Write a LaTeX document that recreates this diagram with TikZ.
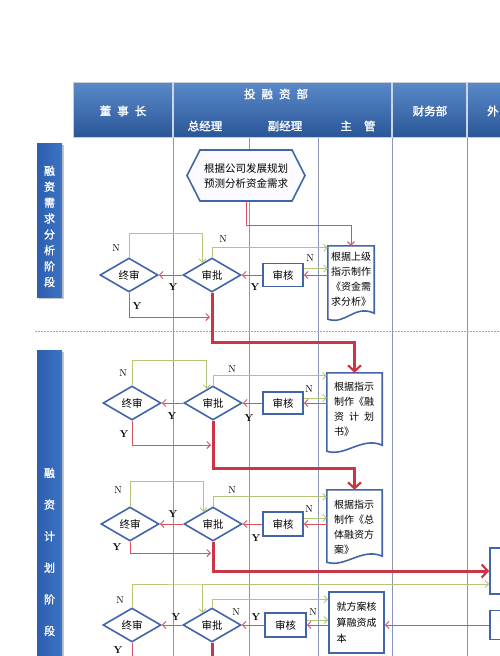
\documentclass[tikz,border=0pt]{standalone}
\usepackage{fontspec}
\newfontfamily\cjk{Noto Sans CJK SC}
\newfontfamily\cjkb{Noto Sans CJK SC}[FakeBold=1.5]
\usetikzlibrary{arrows.meta,shapes.geometric,calc}
\definecolor{hdrT}{HTML}{5A8ACB}
\definecolor{hdrB}{HTML}{2A5696}
\definecolor{phL}{HTML}{2C5EAD}
\definecolor{phR}{HTML}{3D74C4}
\definecolor{shpC}{HTML}{4265AA}
\definecolor{laneC}{HTML}{8D96B6}
\definecolor{grC}{HTML}{B2C679}
\definecolor{rdC}{HTML}{D9505E}
\definecolor{bigC}{HTML}{CC3545}
\newcommand{\wavydoc}[1]{\draw[shp] (#1.north west) -- (#1.north east) -- (#1.south east) .. controls +(-20,-9) and +(18,6) .. ([yshift=-6pt]#1.south west) -- cycle;}
\begin{document}
\begin{tikzpicture}[x=1pt,y=-1pt,
 lane/.style={draw=laneC,line width=0.7pt},
 shp/.style={draw=shpC,line width=1.6pt,fill=white},
 dia/.style={shp,diamond,minimum width=58pt,minimum height=34pt,inner sep=0pt,font=\cjk\fontsize{10.5}{12}\selectfont},
 box/.style={shp,rectangle,inner sep=0pt,font=\cjk\fontsize{10.5}{12}\selectfont},
 area/.style={rectangle,inner sep=0pt,draw=none},
 dtext/.style={inner sep=0pt,align=left,font=\cjk\fontsize{10}{15}\selectfont},
 gr/.style={draw=grC,line width=0.9pt,-{Straight Barb[length=3.5pt,width=7pt]}},
 rd/.style={draw=rdC,line width=1pt,-{Straight Barb[length=3.5pt,width=7pt]}},
 bigline/.style={draw=bigC,line width=3pt},
 big/.style={bigline,-{Straight Barb[length=6pt,width=13pt,line width=2.2pt]}},
 nl/.style={inner sep=0pt,font=\fontsize{10}{12}\selectfont},
 yl/.style={inner sep=0pt,font=\bfseries\fontsize{10}{12}\selectfont},
 htext/.style={inner sep=0pt,text=white,font=\cjkb\fontsize{11.5}{14}\selectfont},
 ptext/.style={inner sep=0pt,text=white,align=center},
]
\useasboundingbox (0,0) rectangle (500,656);
\clip (0,0) rectangle (500,656);
\fill[white] (0,0) rectangle (500,656);

% lane lines
\foreach \lx in {173,249,318,392,467} \draw[lane] (\lx,137) -- (\lx,660);
% separator
\draw[gray!70,line width=0.8pt,dash pattern=on 1.5pt off 1.5pt] (35,331) -- (500,331);

% header
\shade[top color=hdrT,bottom color=hdrB] (73,82) rectangle (500,137);
\draw[gray!40,line width=0.8pt] (73,82) rectangle (502,137);
\foreach \hx in {173,392,467} \draw[white!75!hdrB,line width=1.6pt] (\hx,82) -- (\hx,137);
\node[htext] (hA) at (123,111) {董\hspace{6pt}事\hspace{6pt}长};
\node[htext] (hB) at (276,94) {投\hspace{6pt}融\hspace{6pt}资\hspace{6pt}部};
\node[htext] (hB1) at (205,126) {总经理};
\node[htext] (hB2) at (285,126) {副经理};
\node[htext] (hB3) at (358,126) {主\hspace{12pt}管};
\node[htext] (hC) at (430,111) {财务部};
\node[htext,anchor=west] (hD) at (487,111) {外};

% phase boxes
\fill[gray!45] (39,145) rectangle (64,299);
\shade[left color=phL,right color=phR] (37,143) rectangle (62,297);
\fill[gray!45] (39,352) rectangle (64,660);
\shade[left color=phL,right color=phR] (37,350) rectangle (62,660);
\node[ptext,font=\cjkb\fontsize{11}{15.9}\selectfont] (ph1) at (49.5,226.5) {融\\资\\需\\求\\分\\析\\阶\\段};
\node[ptext,font=\cjkb\fontsize{11}{31.6}\selectfont] (ph2) at (49.5,552) {融\\资\\计\\划\\阶\\段};

% hexagon
\draw[shp,fill=blue!2] (187,175.5) -- (200,150) -- (292,150) -- (305,175.5) -- (292,201) -- (200,201) -- cycle;
\node[area,minimum width=118pt,minimum height=51pt,align=center,font=\cjk\fontsize{10.5}{15}\selectfont] (H1) at (246,176) {根据公司发展规划\\预测分析资金需求};

% block 1
\node[dia] (Z1) at (129,275) {终审};
\node[dia] (P1) at (212,275) {审批};
\node[box,minimum width=40pt,minimum height=23pt] (K1) at (283,275) {审核};
\node[area,minimum width=46pt,minimum height=67pt] (D1) at (351,279.5) {};
\wavydoc{D1}
\node[dtext] (D1t) at (351,279) {根据上级\\指示制作\\《资金需\\求分析》};

% block 2
\node[dia] (Z2) at (132,403) {终审};
\node[dia] (P2) at (213,403) {审批};
\node[box,minimum width=40pt,minimum height=22pt] (K2) at (283,403) {审核};
\node[area,minimum width=55pt,minimum height=72pt] (D2) at (354.5,409) {};
\wavydoc{D2}
\node[dtext] (D2t) at (354,409) {根据指示\\制作《融\\资\hspace{5pt}计\hspace{5pt}划\\书》};

% block 3
\node[dia] (Z3) at (130,524) {终审};
\node[dia] (P3) at (213,524) {审批};
\node[box,minimum width=40pt,minimum height=24pt] (K3) at (283,524) {审核};
\node[area,minimum width=55pt,minimum height=66pt] (D3) at (354.5,523) {};
\wavydoc{D3}
\node[dtext] (D3t) at (354,527) {根据指示\\制作《总\\体融资方\\案》};

% block 4
\node[dia] (Z4) at (132,625) {终审};
\node[dia] (P4) at (212,625) {审批};
\node[box,minimum width=41pt,minimum height=24pt] (K4) at (285.5,625) {审核};
\node[box,minimum width=55pt,minimum height=61pt,align=left,font=\cjk\fontsize{10}{16}\selectfont] (D4) at (356.5,622.5) {就方案核\\算融资成\\本\phantom{资融资}};

% right boxes
\node[box,minimum width=22pt,minimum height=46pt] (R1) at (501,571) {};
\node[box,minimum width=22pt,minimum height=29pt] (R2) at (501,625) {};

\coordinate (m1) at (210,317);
\coordinate (m2) at (211,445);
\coordinate (m3) at (211,553);
\coordinate (j4) at (203,584);

% connectors block 1
\draw[rd] (H1.south) -- ++(0,24) -| (D1.north);
\draw[gr] (P1.north) |- ([yshift=-2pt]D1.north west);
\draw[gr] ([yshift=6.5pt]K1.east) -- ([yshift=6.5pt]K1.east -| D1.west);
\draw[rd] (K1.east -| D1.west) -- (K1.east);
\draw[rd] (K1.west) -- (P1.east);
\draw[rd] (P1.west) -- (Z1.east);
\draw[gr] (Z1.north) -- ++(0,-24) -| (P1.128);
\draw[rd] (Z1.south) |- (m1);
\draw[big] (P1.south) -- ++(0,50) -| (D2.north);

% connectors block 2
\draw[gr] (P2.north) |- ([yshift=-3pt]D2.north west);
\draw[gr] ([yshift=5pt]K2.east) -- ([yshift=5pt]K2.east -| D2.west);
\draw[rd] (K2.east -| D2.west) -- (K2.east);
\draw[rd] (K2.west) -- (P2.east);
\draw[rd] (P2.west) -- (Z2.east);
\draw[gr] (Z2.north) -- ++(0,-25) -| (P2.114);
\draw[rd] (Z2.south) |- (m2);
\draw[big] (P2.south) -- ++(0,48) -| (D3.north);

% connectors block 3
\draw[gr] (P3.north) |- ([yshift=-7pt]D3.north west);
\draw[gr] ([yshift=6pt]K3.east) -- ([yshift=6pt]K3.east -| D3.west);
\draw[rd] (K3.east -| D3.west) -- (K3.east);
\draw[rd] (K3.west) -- (P3.east);
\draw[rd] (P3.west) -- (Z3.east);
\draw[gr] (Z3.north) -- ++(0,-25) -| (P3.128);
\draw[rd] (Z3.south) |- (m3);
\draw[big] (P3.south) |- (R1.west);

% connectors block 4
\draw[gr] (P4.north) |- ([yshift=-8pt]D4.north west);
\draw[gr] ([yshift=5pt]K4.east) -- ([yshift=5pt]K4.east -| D4.west);
\draw[rd] (K4.east -| D4.west) -- (K4.east);
\draw[rd] (R2.west) -- (R2.west -| D4.east);
\draw[rd] (K4.west) -- (P4.east);
\draw[rd] (P4.west) -- (Z4.east);
\draw[gr] (Z4.north) |- (j4) -| (P4.128);
\draw[gr] (j4) -- (j4 -| R1.west);
\draw[draw=rdC,line width=1pt] (Z4.south) -- ++(0,20);
\draw[bigline] (P4.south) -- ++(0,20);

% labels block 1
\node[nl] (n11) at (223,239) {N};
\node[nl] (n12) at (310,258) {N};
\node[yl] (y11) at (255,287) {Y};
\node[yl] (y12) at (173,287) {Y};
\node[nl] (n13) at (116,248) {N};
\node[yl] (y13) at (137,306) {Y};
% labels block 2
\node[nl] (n21) at (232,369) {N};
\node[nl] (n22) at (309,389) {N};
\node[yl] (y21) at (249,418) {Y};
\node[yl] (y22) at (172,416) {Y};
\node[nl] (n23) at (123,373) {N};
\node[yl] (y23) at (124,434) {Y};
% labels block 3
\node[nl] (n31) at (232,490) {N};
\node[nl] (n32) at (309,509) {N};
\node[yl] (y31) at (256,538) {Y};
\node[yl] (y32) at (173,514) {Y};
\node[nl] (n33) at (118,490) {N};
\node[yl] (y33) at (117,547) {Y};
% labels block 4
\node[nl] (n41) at (236,612) {N};
\node[nl] (n42) at (313,612) {N};
\node[yl] (y41) at (256,617) {Y};
\node[yl] (y42) at (176,617) {Y};
\node[nl] (n43) at (120,600) {N};
\node[yl] (y43) at (118,650) {Y};
\end{tikzpicture}
\end{document}
